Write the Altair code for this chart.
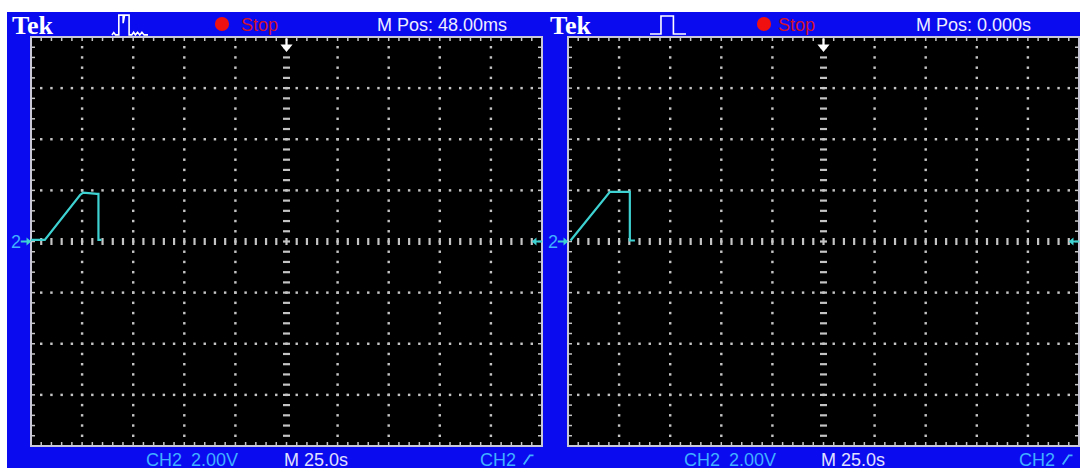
import altair as alt
import numpy as np
import pandas as pd

# ---- screen geometry (pixels) ----
PANEL_W = 511
PANEL_H = 409
GAP = 26

# ---- graticule: 10 x 8 divisions, 5 minor steps per division ----
X_DIVS = 10
Y_HALF = 4
MINOR = 0.2

# ---- captured traces (time in divisions from left edge, volts in divisions from ground) ----
left_t = [0.0, 0.27, 0.96, 1.02, 1.29, 1.32, 1.32, 1.38]
left_v = [0.03, 0.03, 0.91, 0.955, 0.93, 0.93, 0.03, 0.03]
right_t = [0.05, 0.82, 1.21, 1.21, 1.31]
right_v = [0.02, 0.97, 0.97, 0.02, 0.02]

# ---- on-screen readouts ----
brand = "Tek"
run_state = "Stop"
left_mpos = "M Pos: 48.00ms"
right_mpos = "M Pos: 0.000s"
ch_label = "CH2"
volts_div = "2.00V"
time_div = "M 25.0s"
trace_id = "2"

BLUE = "#0b0bf0"
GRID = "#c4c4c4"
TRACE = "#3fd2d2"
CH_BLUE = "#40b0ff"
SANS = "Liberation Sans, Arial, sans-serif"

ONE = pd.DataFrame({"k": [0]})
xscale = alt.Scale(domain=[0, X_DIVS], nice=False, zero=False)
yscale = alt.Scale(domain=[-Y_HALF, Y_HALF], nice=False, zero=False)


def X(f):
    return alt.X(f, type="quantitative", scale=xscale, axis=None)


def Y(f):
    return alt.Y(f, type="quantitative", scale=yscale, axis=None)


minor_x = np.round(np.arange(1, int(X_DIVS / MINOR)) * MINOR, 2)
minor_y = np.round(-Y_HALF + np.arange(1, int(2 * Y_HALF / MINOR)) * MINOR, 2)

dots = pd.DataFrame(
    [(gx, y) for gx in [1, 2, 3, 4, 6, 7, 8, 9] for y in minor_y]
    + [(x, gy) for gy in [-3, -2, -1, 1, 2, 3] for x in minor_x],
    columns=["x", "y"],
)
hcenter = pd.DataFrame({"x": minor_x, "y": 0.0})
vcenter = pd.DataFrame({"x": X_DIVS / 2, "y": minor_y})
edge_x = pd.DataFrame({"x": minor_x})
edge_y = pd.DataFrame({"y": minor_y})

# path glyphs
PULSE_NOISY = ("M-1,0.55 L-0.9,0.42 L-0.8,0.55 L-0.62,0.55 L-0.62,-0.55 L-0.38,-0.55 L-0.38,-0.1 "
               "L-0.3,-0.55 L-0.05,-0.55 L-0.05,0.55 L0.1,0.55 L0.2,0.4 L0.3,0.55 L0.42,0.4 "
               "L0.54,0.55 L0.66,0.4 L0.78,0.55 L1,0.55")
PULSE_CLEAN = "M-1,0.5 L-0.39,0.5 L-0.39,-0.5 L0.3,-0.5 L0.3,0.5 L1,0.5"
SLOPE = "M-0.7,0.75 L0.3,-0.75 L0.9,-0.75"
DOWN_ARROW = "M-0.15,-1 L0.15,-1 L0.15,-0.2 L0.8,-0.2 L0,0.8 L-0.8,-0.2 L-0.15,-0.2 Z"
RIGHT_ARROW = "M1,0 L0.1,-0.75 L0.1,-0.2 L-1,-0.2 L-1,0.2 L0.1,0.2 L0.1,0.75 Z"
LEFT_ARROW = "M-1,0 L-0.1,-0.75 L-0.1,-0.2 L1,-0.2 L1,0.2 L-0.1,0.2 L-0.1,0.75 Z"


def text(s, x, y, color, size=18, font=SANS, weight="normal"):
    return alt.Chart(ONE).mark_text(
        text=s, font=font, fontSize=size, fontWeight=weight, color=color,
        align="left", baseline="alphabetic",
    ).encode(x=alt.value(x), y=alt.value(y))


def glyph(path, x, y, size, color, sw=1.5):
    return alt.Chart(ONE).mark_point(
        shape=path, size=size, opacity=1, filled=False, stroke=color, strokeWidth=sw
    ).encode(x=alt.value(x), y=alt.value(y))


def screen(t, v, mpos, icon, first, blue_x0, blue_x1, off):
    layers = []
    if first:
        layers.append(alt.Chart(ONE).mark_rect(color="white").encode(
            x=alt.value(-31), x2=alt.value(1049), y=alt.value(-37), y2=alt.value(431)))
    layers.append(alt.Chart(ONE).mark_rect(color=BLUE).encode(
        x=alt.value(blue_x0), x2=alt.value(blue_x1), y=alt.value(-25), y2=alt.value(431)))
    layers.append(alt.Chart(ONE).mark_rect(color="black").encode(
        x=alt.value(0), x2=alt.value(PANEL_W), y=alt.value(0), y2=alt.value(PANEL_H)))

    # dotted grid
    layers.append(alt.Chart(dots).mark_square(size=6, color=GRID, opacity=1).encode(x=X("x"), y=Y("y")))
    # center cross with minor marks
    layers.append(alt.Chart(hcenter).mark_tick(orient="vertical", size=7, thickness=2.2, color=GRID, opacity=1)
                  .encode(x=X("x"), y=Y("y")))
    layers.append(alt.Chart(vcenter).mark_tick(orient="horizontal", size=7, thickness=2.2, color=GRID, opacity=1)
                  .encode(x=X("x"), y=Y("y")))
    # bezel ticks
    layers.append(alt.Chart(edge_x).mark_rule(color=GRID, strokeWidth=1.5).encode(
        x=X("x"), y=alt.value(0), y2=alt.value(4)))
    layers.append(alt.Chart(edge_x).mark_rule(color=GRID, strokeWidth=1.5).encode(
        x=X("x"), y=alt.value(PANEL_H - 4), y2=alt.value(PANEL_H)))
    layers.append(alt.Chart(edge_y).mark_rule(color=GRID, strokeWidth=1.5).encode(
        y=Y("y"), x=alt.value(0), x2=alt.value(4)))
    layers.append(alt.Chart(edge_y).mark_rule(color=GRID, strokeWidth=1.5).encode(
        y=Y("y"), x=alt.value(PANEL_W - 4), x2=alt.value(PANEL_W)))
    # bezel outline
    layers.append(alt.Chart(ONE).mark_rect(fillOpacity=0, stroke="#c8c8d8", strokeWidth=2).encode(
        x=alt.value(0), x2=alt.value(PANEL_W), y=alt.value(0), y2=alt.value(PANEL_H)))

    # trace
    tr = pd.DataFrame({"x": t, "y": v, "i": range(len(t))})
    layers.append(alt.Chart(tr).mark_line(color=TRACE, strokeWidth=2.2).encode(
        x=X("x"), y=Y("y"), order=alt.Order("i:Q")))

    # ground / trigger markers
    g = pd.DataFrame({"y": [0.0]})
    layers.append(alt.Chart(g).mark_text(text=trace_id, font=SANS, fontSize=18, color=CH_BLUE,
                                         align="left", baseline="middle", dy=1)
                  .encode(x=alt.value(-20), y=Y("y")))
    layers.append(alt.Chart(g).mark_point(shape=RIGHT_ARROW, size=110, filled=True, fill=TRACE,
                                          strokeWidth=0, opacity=1)
                  .encode(x=alt.value(-5), y=Y("y")))
    layers.append(alt.Chart(g).mark_point(shape=LEFT_ARROW, size=110, filled=True, fill=TRACE,
                                          strokeWidth=0, opacity=1)
                  .encode(x=alt.value(PANEL_W - 5), y=Y("y")))
    layers.append(alt.Chart(pd.DataFrame({"x": [X_DIVS / 2]})).mark_point(
        shape=DOWN_ARROW, size=230, filled=True, fill="white", strokeWidth=0, opacity=1)
        .encode(x=X("x"), y=alt.value(9)))

    # header
    layers.append(text(brand, -19 + off[0], -3, "white", size=26,
                       font="Liberation Serif, Times New Roman, serif", weight="bold"))
    layers.append(glyph(icon, 99 + off[1], -12, 1300, "white", sw=1.6))
    layers.append(alt.Chart(ONE).mark_circle(size=200, color="#f01010", opacity=1).encode(
        x=alt.value(191 + off[2]), y=alt.value(-13)))
    layers.append(text(run_state, 210 + off[3], -6, "#d0142e"))
    layers.append(text(mpos, 346 + off[4], -6, "#eeeeff"))

    # footer
    layers.append(text(ch_label, 115 + off[5], 429, CH_BLUE))
    layers.append(text(volts_div, 160 + off[5], 429, CH_BLUE))
    layers.append(text(time_div, 253, 429, "#e0e0ff"))
    layers.append(text(ch_label, 449 + off[6], 429, CH_BLUE))
    layers.append(glyph(SLOPE, 497 + off[6], 423, 150, CH_BLUE, sw=1.8))

    return alt.layer(*layers).properties(width=PANEL_W, height=PANEL_H)


left = screen(left_t, left_v, left_mpos, PULSE_NOISY, True, -24, 524, [0, 0, 0, 0, 0, 0, 0])
right = screen(right_t, right_v, right_mpos, PULSE_CLEAN, False, -13, 512, [1, 1, 5, 0, 2, 1, 2])

chart = (
    alt.hconcat(left, right, spacing=GAP, bounds="flush")
    .properties(padding=0, background="white")
    .configure_view(strokeWidth=0)
)

chart.save("out.html", embed_options={"renderer": "svg", "actions": False})
